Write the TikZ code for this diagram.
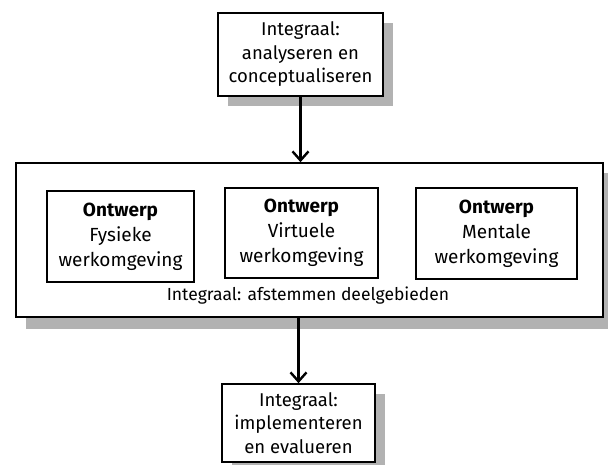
\documentclass[tikz,border=0pt]{standalone}
\usepackage{fontspec}
\setmainfont{Fira Sans}
\usetikzlibrary{arrows.meta,shadows}
\definecolor{shadowgray}{RGB}{178,178,178}

\begin{document}
\begin{tikzpicture}[x=1pt,y=-1pt,
    font=\fontsize{18.5}{23.5}\selectfont,
    stagebox/.style={draw, line width=1.6pt, fill=white, align=center, inner sep=0pt,
        drop shadow={shadow xshift=10pt, shadow yshift=-10pt, fill=shadowgray, opacity=1}},
    areabox/.style={draw, line width=1.3pt, fill=white, align=center, inner sep=0pt,
        font=\fontsize{19}{25}\selectfont},
    flow/.style={line width=2.8pt, -{Straight Barb[length=9pt,width=16pt,line width=2.4pt]}}]
\useasboundingbox (0,0) rectangle (608,465);

% Start: analyseren
\node[stagebox, minimum width=165pt, minimum height=83pt] (analyse) at (300.5,54.5)
    {Integraal:\\analyseren en\\conceptualiseren};

% Integrale afstemming met de drie deelgebieden
\node[stagebox, minimum width=587pt, minimum height=154pt,
    drop shadow={shadow xshift=10pt, shadow yshift=-12pt, fill=shadowgray, opacity=1}]
    (afstemmen) at (309.5,240) {};
\node[areabox, minimum width=147pt, minimum height=91pt] (fysiek) at (120.5,236.5)
    {\textbf{Ontwerp}\\Fysieke\\werkomgeving};
\node[areabox, minimum width=153pt, minimum height=90pt] (virtueel) at (301.5,233)
    {\textbf{Ontwerp}\\Virtuele\\werkomgeving};
\node[areabox, minimum width=161pt, minimum height=91pt] (mentaal) at (496.5,233.5)
    {\textbf{Ontwerp}\\Mentale\\werkomgeving};
\node[font=\fontsize{17.5}{21}\selectfont] (afstemlabel) at (308,296) {Integraal: afstemmen deelgebieden};

% Einde: implementeren
\node[stagebox, minimum width=153pt, minimum height=78pt] (implement) at (298.5,423)
    {Integraal:\\implementeren\\en evalueren};

% Pijlen
\draw[flow] (analyse.south) -- (analyse.south |- afstemmen.north);
\draw[flow] (afstemmen.south -| implement) -- (implement.north);
\end{tikzpicture}
\end{document}
